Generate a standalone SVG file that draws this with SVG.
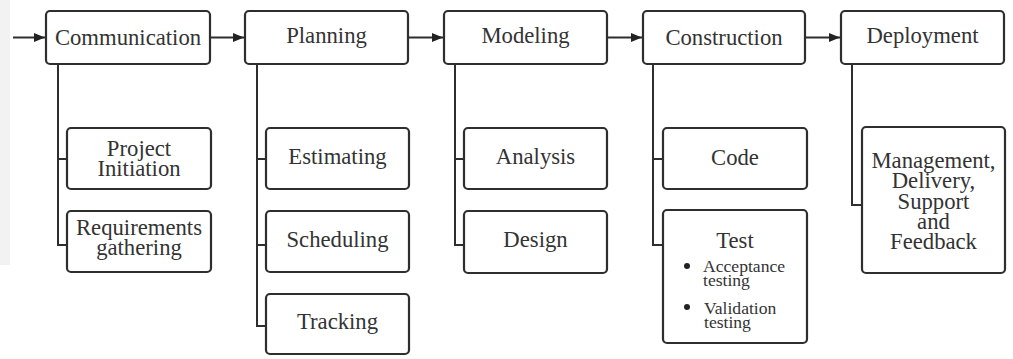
<svg xmlns="http://www.w3.org/2000/svg" width="1013" height="359" viewBox="0 0 1013 359">
<defs>
<style>
.box{fill:#fff;stroke:#2e2e2e;stroke-width:2.2}
.ln{fill:none;stroke:#2e2e2e;stroke-width:2}
.t{font-family:'Liberation Serif','Times New Roman','DejaVu Serif',serif;font-size:22.7px;fill:#333;text-anchor:middle}
.s{font-family:'Liberation Serif','Times New Roman','DejaVu Serif',serif;font-size:17.6px;fill:#333}
</style>
<marker id="ah" markerUnits="userSpaceOnUse" markerWidth="12" markerHeight="10" refX="11" refY="4.5" orient="auto">
<path d="M0,0 L11,4.5 L0,9 z" fill="#222"/>
</marker>
</defs>
<rect x="0" y="0" width="1013" height="359" fill="#fff"/>
<rect x="0" y="0" width="10" height="265" fill="#f2f2f2"/>
<g id="connectors">
<line class="ln" x1="13" y1="37.5" x2="45" y2="37.5" marker-end="url(#ah)"/>
<line class="ln" x1="211" y1="37.5" x2="244" y2="37.5" marker-end="url(#ah)"/>
<line class="ln" x1="409" y1="37.5" x2="443" y2="37.5" marker-end="url(#ah)"/>
<line class="ln" x1="608" y1="37.5" x2="642" y2="37.5" marker-end="url(#ah)"/>
<line class="ln" x1="806" y1="37.5" x2="840" y2="37.5" marker-end="url(#ah)"/>
<path class="ln" d="M58,64 V245 H67 M58,159 H67"/>
<path class="ln" d="M257,64 V326 H266 M257,159 H266 M257,245 H266"/>
<path class="ln" d="M455,64 V245 H464 M455,159 H464"/>
<path class="ln" d="M653,64 V245 H663 M653,159 H663"/>
<path class="ln" d="M852,64 V205 H862"/>
</g>
<g id="communication">
<rect class="box" x="46" y="11" width="164" height="53" rx="4"/>
<text class="t" x="128" y="45">Communication</text>
</g>
<g id="planning">
<rect class="box" x="245" y="11" width="163" height="53" rx="4"/>
<text class="t" x="326.5" y="43">Planning</text>
</g>
<g id="modeling">
<rect class="box" x="444" y="11" width="163" height="53" rx="4"/>
<text class="t" x="525.5" y="43">Modeling</text>
</g>
<g id="construction">
<rect class="box" x="643" y="11" width="162" height="53" rx="4"/>
<text class="t" x="724" y="45">Construction</text>
</g>
<g id="deployment">
<rect class="box" x="841" y="11" width="163" height="53" rx="4"/>
<text class="t" x="922.5" y="43">Deployment</text>
</g>
<g id="project-initiation">
<rect class="box" x="67" y="128" width="144" height="61" rx="4"/>
<text class="t" x="139" y="156">Project</text>
<text class="t" x="139" y="176">Initiation</text>
</g>
<g id="requirements-gathering">
<rect class="box" x="67" y="211" width="144" height="61" rx="4"/>
<text class="t" x="139" y="235">Requirements</text>
<text class="t" x="139" y="255">gathering</text>
</g>
<g id="estimating">
<rect class="box" x="266" y="128" width="143" height="61" rx="4"/>
<text class="t" x="337.5" y="164">Estimating</text>
</g>
<g id="scheduling">
<rect class="box" x="266" y="211" width="143" height="61" rx="4"/>
<text class="t" x="337.5" y="247">Scheduling</text>
</g>
<g id="tracking">
<rect class="box" x="266" y="294" width="143" height="60" rx="4"/>
<text class="t" x="337.5" y="329">Tracking</text>
</g>
<g id="analysis">
<rect class="box" x="464" y="128" width="143" height="61" rx="4"/>
<text class="t" x="535.5" y="164">Analysis</text>
</g>
<g id="design">
<rect class="box" x="464" y="211" width="143" height="62" rx="4"/>
<text class="t" x="535.5" y="247">Design</text>
</g>
<g id="code">
<rect class="box" x="663" y="128" width="144" height="61" rx="4"/>
<text class="t" x="735" y="165">Code</text>
</g>
<g id="test">
<rect class="box" x="663" y="210" width="144" height="133" rx="4"/>
<text class="t" x="735" y="248">Test</text>
<circle cx="687" cy="266" r="3" fill="#222"/>
<text class="s" x="703" y="272">Acceptance</text>
<text class="s" x="703" y="286">testing</text>
<circle cx="687" cy="307" r="3" fill="#222"/>
<text class="s" x="704" y="314">Validation</text>
<text class="s" x="704" y="328">testing</text>
</g>
<g id="management">
<rect class="box" x="862" y="127" width="143" height="146" rx="4"/>
<text class="t" x="933.5" y="168">Management,</text>
<text class="t" x="933.5" y="188">Delivery,</text>
<text class="t" x="933.5" y="209">Support</text>
<text class="t" x="933.5" y="229">and</text>
<text class="t" x="933.5" y="249">Feedback</text>
</g>
</svg>
